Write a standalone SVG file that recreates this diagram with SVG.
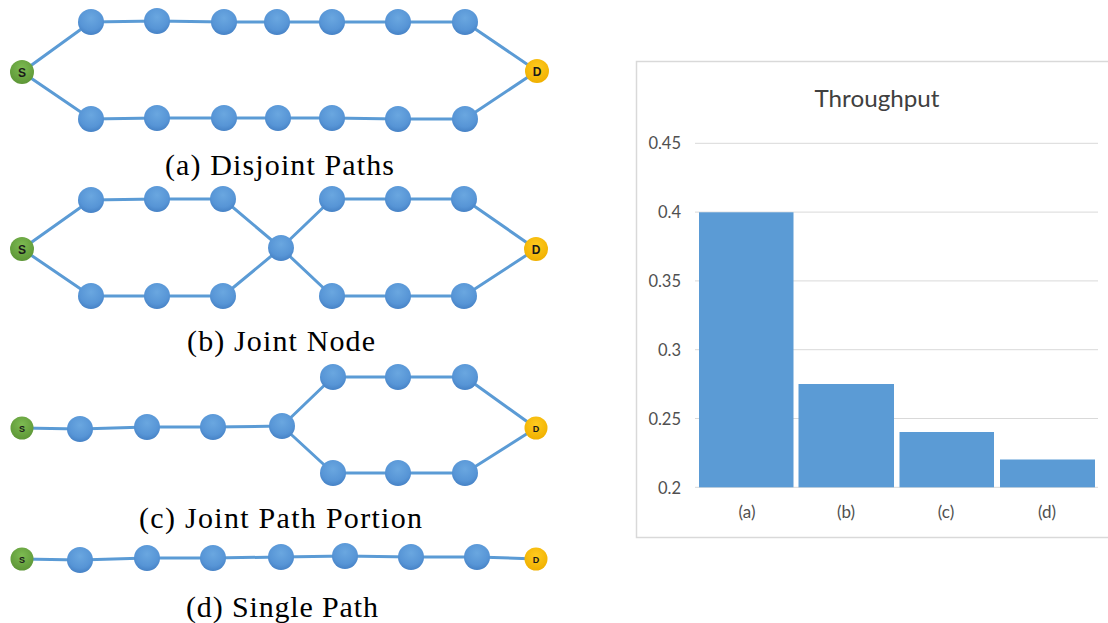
<svg xmlns="http://www.w3.org/2000/svg" width="1108" height="623" viewBox="0 0 1108 623">
  <defs>
    <radialGradient id="gBlue" cx="50%" cy="35%" r="65%">
      <stop offset="0" stop-color="#6aa7e0"/>
      <stop offset="0.7" stop-color="#5795d6"/>
      <stop offset="1" stop-color="#4682c6"/>
    </radialGradient>
    <radialGradient id="gGreen" cx="50%" cy="35%" r="65%">
      <stop offset="0" stop-color="#7dbb52"/>
      <stop offset="1" stop-color="#5d9636"/>
    </radialGradient>
    <radialGradient id="gGold" cx="50%" cy="35%" r="65%">
      <stop offset="0" stop-color="#ffcb1f"/>
      <stop offset="1" stop-color="#f0b000"/>
    </radialGradient>
    <style>
      .edge { stroke: #5b9bd5; stroke-width: 3; fill: none; stroke-linejoin: round; }
      .n { fill: url(#gBlue); }
      .src { fill: url(#gGreen); }
      .dst { fill: url(#gGold); }
      .lbl { font-family: "Liberation Sans", Arial, sans-serif; font-weight: bold; fill: #1a1a1a; text-anchor: middle; }
      .cap { font-family: "Liberation Serif", "Times New Roman", serif; font-size: 30px; fill: #000; }
      .title { font-family: Lato, "Open Sans", sans-serif; font-size: 24px; fill: #404040; text-anchor: middle; }
      .tick { font-family: Lato, "Open Sans", sans-serif; font-size: 16.5px; fill: #505050; text-anchor: end; }
      .cat { font-family: Lato, "Open Sans", sans-serif; font-size: 17px; fill: #505050; text-anchor: middle; }
      .grid { stroke: #d9d9d9; stroke-width: 1; }
      .bar { fill: #5b9bd5; }
    </style>
  </defs>

  <rect width="1108" height="623" fill="#ffffff"/>

  <!-- connectors of the four topologies -->
  <g id="connectors">
    <!-- (a) two disjoint paths -->
    <polyline class="edge" points="22,72 91,22 157,21 224,22 277,22 332,22 398,22 465,22 537,71"/>
    <polyline class="edge" points="22,72 91,119 157,118 224,118 278,118 332,118 398,119 465,119 537,71"/>
    <!-- (b) paths joined at one node -->
    <polyline class="edge" points="22,249 91,200 157,199 223,199 281,248 332,199 398,199 464,199 536,249"/>
    <polyline class="edge" points="22,249 91,296 157,296 223,296 281,248 332,296 398,296 464,296 536,249"/>
    <!-- (c) shared first portion -->
    <polyline class="edge" points="22,428 80,429 147,427 213,427 282,426 333,377 398,377 465,377 536,428"/>
    <polyline class="edge" points="282,426 333,473 398,473 465,473 536,428"/>
    <!-- (d) single path -->
    <polyline class="edge" points="22,559 80,560 147,558 213,558 281,557 345,556 411,557 477,557 536,559"/>
  </g>

  <!-- (a) nodes -->
  <g id="a-S"><circle class="src" cx="22" cy="72" r="12"/><text class="lbl" x="22" y="76.5" font-size="12">S</text></g>
  <g id="a-t1"><circle class="n" cx="91" cy="22" r="13"/></g>
  <g id="a-t2"><circle class="n" cx="157" cy="21" r="13"/></g>
  <g id="a-t3"><circle class="n" cx="224" cy="22" r="13"/></g>
  <g id="a-t4"><circle class="n" cx="277" cy="22" r="13"/></g>
  <g id="a-t5"><circle class="n" cx="332" cy="22" r="13"/></g>
  <g id="a-t6"><circle class="n" cx="398" cy="22" r="13"/></g>
  <g id="a-t7"><circle class="n" cx="465" cy="22" r="13"/></g>
  <g id="a-b1"><circle class="n" cx="91" cy="119" r="13"/></g>
  <g id="a-b2"><circle class="n" cx="157" cy="118" r="13"/></g>
  <g id="a-b3"><circle class="n" cx="224" cy="118" r="13"/></g>
  <g id="a-b4"><circle class="n" cx="278" cy="118" r="13"/></g>
  <g id="a-b5"><circle class="n" cx="332" cy="118" r="13"/></g>
  <g id="a-b6"><circle class="n" cx="398" cy="119" r="13"/></g>
  <g id="a-b7"><circle class="n" cx="465" cy="119" r="13"/></g>
  <g id="a-D"><circle class="dst" cx="537" cy="71" r="12"/><text class="lbl" x="537" y="75.5" font-size="12">D</text></g>
  <text class="cap" x="165" y="175" textLength="229" lengthAdjust="spacing">(a) Disjoint Paths</text>

  <!-- (b) nodes -->
  <g id="b-S"><circle class="src" cx="22" cy="249" r="12"/><text class="lbl" x="22" y="253.5" font-size="12">S</text></g>
  <g id="b-t1"><circle class="n" cx="91" cy="200" r="13"/></g>
  <g id="b-t2"><circle class="n" cx="157" cy="199" r="13"/></g>
  <g id="b-t3"><circle class="n" cx="223" cy="199" r="13"/></g>
  <g id="b-b1"><circle class="n" cx="91" cy="296" r="13"/></g>
  <g id="b-b2"><circle class="n" cx="157" cy="296" r="13"/></g>
  <g id="b-b3"><circle class="n" cx="223" cy="296" r="13"/></g>
  <g id="b-M"><circle class="n" cx="281" cy="248" r="13"/></g>
  <g id="b-t4"><circle class="n" cx="332" cy="199" r="13"/></g>
  <g id="b-t5"><circle class="n" cx="398" cy="199" r="13"/></g>
  <g id="b-t6"><circle class="n" cx="464" cy="199" r="13"/></g>
  <g id="b-b4"><circle class="n" cx="332" cy="296" r="13"/></g>
  <g id="b-b5"><circle class="n" cx="398" cy="296" r="13"/></g>
  <g id="b-b6"><circle class="n" cx="464" cy="296" r="13"/></g>
  <g id="b-D"><circle class="dst" cx="536" cy="249" r="12"/><text class="lbl" x="536" y="253.5" font-size="12">D</text></g>
  <text class="cap" x="187" y="351" textLength="188" lengthAdjust="spacing">(b) Joint Node</text>

  <!-- (c) nodes -->
  <g id="c-S"><circle class="src" cx="22" cy="428" r="11.5"/><text class="lbl" x="22" y="431.5" font-size="9">S</text></g>
  <g id="c-s1"><circle class="n" cx="80" cy="429" r="13"/></g>
  <g id="c-s2"><circle class="n" cx="147" cy="427" r="13"/></g>
  <g id="c-s3"><circle class="n" cx="213" cy="427" r="13"/></g>
  <g id="c-J"><circle class="n" cx="282" cy="426" r="13"/></g>
  <g id="c-t1"><circle class="n" cx="333" cy="377" r="13"/></g>
  <g id="c-t2"><circle class="n" cx="398" cy="377" r="13"/></g>
  <g id="c-t3"><circle class="n" cx="465" cy="377" r="13"/></g>
  <g id="c-b1"><circle class="n" cx="333" cy="473" r="13"/></g>
  <g id="c-b2"><circle class="n" cx="398" cy="473" r="13"/></g>
  <g id="c-b3"><circle class="n" cx="465" cy="473" r="13"/></g>
  <g id="c-D"><circle class="dst" cx="536" cy="428" r="11.5"/><text class="lbl" x="536" y="431.5" font-size="9">D</text></g>
  <text class="cap" x="139" y="528" textLength="283" lengthAdjust="spacing">(c) Joint Path Portion</text>

  <!-- (d) nodes -->
  <g id="d-S"><circle class="src" cx="22" cy="559" r="11.5"/><text class="lbl" x="22" y="562.5" font-size="9">S</text></g>
  <g id="d-n1"><circle class="n" cx="80" cy="560" r="13"/></g>
  <g id="d-n2"><circle class="n" cx="147" cy="558" r="13"/></g>
  <g id="d-n3"><circle class="n" cx="213" cy="558" r="13"/></g>
  <g id="d-n4"><circle class="n" cx="281" cy="557" r="13"/></g>
  <g id="d-n5"><circle class="n" cx="345" cy="556" r="13"/></g>
  <g id="d-n6"><circle class="n" cx="411" cy="557" r="13"/></g>
  <g id="d-n7"><circle class="n" cx="477" cy="557" r="13"/></g>
  <g id="d-D"><circle class="dst" cx="536" cy="559" r="11.5"/><text class="lbl" x="536" y="562.5" font-size="9">D</text></g>
  <text class="cap" x="186" y="617" textLength="192" lengthAdjust="spacing">(d) Single Path</text>

  <!-- throughput bar chart -->
  <g id="chart">
    <rect x="636.5" y="61.5" width="480" height="476" fill="#ffffff" stroke="#d9d9d9" stroke-width="1.5"/>
    <text class="title" x="877" y="107" textLength="125" lengthAdjust="spacingAndGlyphs">Throughput</text>
    <g id="grid">
      <line class="grid" x1="695" y1="143.3" x2="1098" y2="143.3"/>
      <line class="grid" x1="695" y1="212.1" x2="1098" y2="212.1"/>
      <line class="grid" x1="695" y1="280.9" x2="1098" y2="280.9"/>
      <line class="grid" x1="695" y1="349.7" x2="1098" y2="349.7"/>
      <line class="grid" x1="695" y1="418.5" x2="1098" y2="418.5"/>
      <line class="grid" x1="695" y1="487.3" x2="1098" y2="487.3"/>
    </g>
    <g id="yticks">
      <text class="tick" x="681" y="149">0.45</text>
      <text class="tick" x="681" y="218">0.4</text>
      <text class="tick" x="681" y="287">0.35</text>
      <text class="tick" x="681" y="355.5">0.3</text>
      <text class="tick" x="681" y="424.5">0.25</text>
      <text class="tick" x="681" y="493.5">0.2</text>
    </g>
    <g id="bars">
      <rect class="bar" x="699" y="212.3" width="94.5" height="275"/>
      <rect class="bar" x="798.5" y="384" width="95.5" height="103.3"/>
      <rect class="bar" x="899.5" y="432" width="94.5" height="55.3"/>
      <rect class="bar" x="1000" y="459.5" width="95" height="27.8"/>
    </g>
    <g id="xticks">
      <text class="cat" x="747" y="518">(a)</text>
      <text class="cat" x="846" y="518">(b)</text>
      <text class="cat" x="946" y="518">(c)</text>
      <text class="cat" x="1047" y="518">(d)</text>
    </g>
  </g>
</svg>
